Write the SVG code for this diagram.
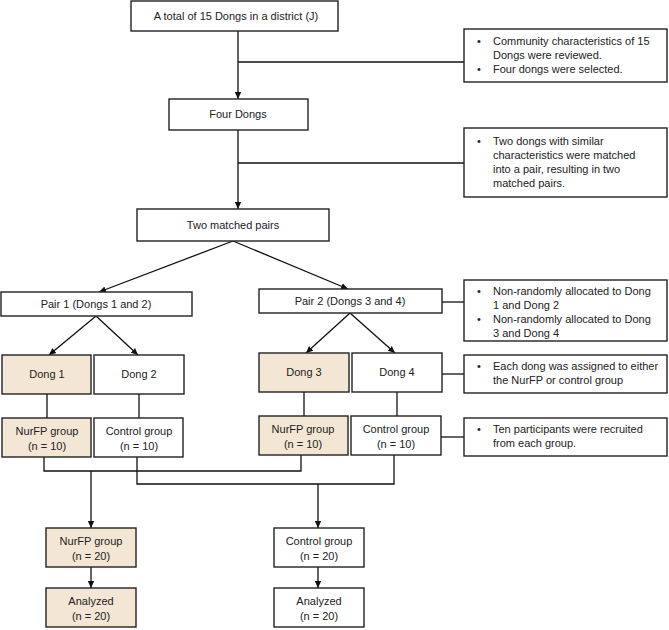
<svg xmlns="http://www.w3.org/2000/svg" width="669" height="630" viewBox="0 0 669 630">
<defs>
<marker id="ah" markerWidth="8" markerHeight="8" refX="7" refY="4" orient="auto" markerUnits="userSpaceOnUse">
<path d="M0,0.8 L7,4 L0,7.2 Z" fill="#111"/>
</marker>
<style>
.box{fill:#fff;stroke:#222;stroke-width:1.4}
.tan{fill:#f3e6d4;stroke:#222;stroke-width:1.4}
.ln{fill:none;stroke:#111;stroke-width:1.3}
.ar{fill:none;stroke:#111;stroke-width:1.3;marker-end:url(#ah)}
text{font-family:"Liberation Sans",Arial,sans-serif;font-size:11px;fill:#222}
.c{text-anchor:middle}
</style>
</defs>
<rect width="669" height="630" fill="#fff"/>
<g id="connectors">
<line class="ar" x1="238" y1="31" x2="238" y2="99"/>
<line class="ln" x1="238" y1="62" x2="464" y2="62"/>
<line class="ar" x1="238" y1="130" x2="238" y2="209"/>
<line class="ln" x1="238" y1="163" x2="464" y2="163"/>
<line class="ar" x1="233" y1="241" x2="99" y2="292"/>
<line class="ar" x1="233" y1="241" x2="348" y2="289"/>
<line class="ar" x1="96" y1="316" x2="49" y2="355"/>
<line class="ar" x1="96" y1="316" x2="138" y2="355"/>
<line class="ar" x1="350" y1="313" x2="306" y2="353"/>
<line class="ar" x1="350" y1="313" x2="395" y2="353"/>
<line class="ln" x1="442" y1="302" x2="464" y2="302"/>
<line class="ln" x1="442" y1="374" x2="464" y2="374"/>
<line class="ln" x1="441" y1="437" x2="464" y2="437"/>
<line class="ln" x1="47" y1="394" x2="47" y2="418"/>
<line class="ln" x1="139" y1="394" x2="139" y2="418"/>
<line class="ln" x1="304" y1="392" x2="304" y2="416"/>
<line class="ln" x1="397" y1="392" x2="397" y2="416"/>
<polyline class="ln" points="44,457 44,471 301,471 301,455"/>
<polyline class="ln" points="137,457 137,484 394,484 394,455"/>
<line class="ar" x1="91" y1="471" x2="91" y2="528"/>
<line class="ar" x1="318" y1="484" x2="318" y2="528"/>
<line class="ar" x1="91" y1="567" x2="91" y2="588"/>
<line class="ar" x1="318" y1="567" x2="318" y2="588"/>
</g>
<g id="total">
<rect class="box" x="131" y="1" width="207" height="30"/>
<text class="c" x="236" y="20">A total of 15 Dongs in a district (J)</text>
</g>
<g id="note1">
<rect class="box" x="464" y="29" width="203" height="53"/>
<text x="477" y="45">•</text><text x="493" y="45">Community characteristics of 15</text>
<text x="493" y="59">Dongs were reviewed.</text>
<text x="477" y="73">•</text><text x="493" y="73">Four dongs were selected.</text>
</g>
<g id="four">
<rect class="box" x="169" y="99" width="139" height="31"/>
<text class="c" x="238" y="118">Four Dongs</text>
</g>
<g id="note2">
<rect class="box" x="464" y="128" width="203" height="69"/>
<text x="477" y="145">•</text><text x="493" y="145">Two dongs with similar</text>
<text x="493" y="159">characteristics were matched</text>
<text x="493" y="173">into a pair, resulting in two</text>
<text x="493" y="187">matched pairs.</text>
</g>
<g id="pairs">
<rect class="box" x="137" y="209" width="192" height="32"/>
<text class="c" x="233" y="229">Two matched pairs</text>
</g>
<g id="pair1">
<rect class="box" x="1" y="292" width="191" height="24"/>
<text class="c" x="96" y="308">Pair 1 (Dongs 1 and 2)</text>
</g>
<g id="pair2">
<rect class="box" x="259" y="289" width="183" height="24"/>
<text class="c" x="350" y="305">Pair 2 (Dongs 3 and 4)</text>
</g>
<g id="note3">
<rect class="box" x="464" y="280" width="203" height="61"/>
<text x="477" y="295">•</text><text x="493" y="295">Non-randomly allocated to Dong</text>
<text x="493" y="309">1 and Dong 2</text>
<text x="477" y="323">•</text><text x="493" y="323">Non-randomly allocated to Dong</text>
<text x="493" y="337">3 and Dong 4</text>
</g>
<g id="dong1">
<rect class="tan" x="2" y="355" width="89" height="39"/>
<text class="c" x="47" y="378">Dong 1</text>
</g>
<g id="dong2">
<rect class="box" x="94" y="355" width="90" height="39"/>
<text class="c" x="139" y="378">Dong 2</text>
</g>
<g id="dong3">
<rect class="tan" x="259" y="353" width="90" height="39"/>
<text class="c" x="304" y="376">Dong 3</text>
</g>
<g id="dong4">
<rect class="box" x="352" y="353" width="90" height="39"/>
<text class="c" x="397" y="376">Dong 4</text>
</g>
<g id="note4">
<rect class="box" x="464" y="355" width="203" height="38"/>
<text x="477" y="370">•</text><text x="493" y="370">Each dong was assigned to either</text>
<text x="493" y="384">the NurFP or control group</text>
</g>
<g id="nurfp1">
<rect class="tan" x="2" y="418" width="89" height="39"/>
<text class="c" x="47" y="435">NurFP group</text>
<text class="c" x="47" y="450">(n = 10)</text>
</g>
<g id="control1">
<rect class="box" x="94" y="418" width="89" height="39"/>
<text class="c" x="139" y="435">Control group</text>
<text class="c" x="139" y="450">(n = 10)</text>
</g>
<g id="nurfp3">
<rect class="tan" x="259" y="416" width="89" height="39"/>
<text class="c" x="303" y="433">NurFP group</text>
<text class="c" x="303" y="448">(n = 10)</text>
</g>
<g id="control4">
<rect class="box" x="351" y="416" width="90" height="39"/>
<text class="c" x="396" y="433">Control group</text>
<text class="c" x="396" y="448">(n = 10)</text>
</g>
<g id="note5">
<rect class="box" x="464" y="418" width="203" height="38"/>
<text x="477" y="433">•</text><text x="493" y="433">Ten participants were recruited</text>
<text x="493" y="447">from each group.</text>
</g>
<g id="nurfp20">
<rect class="tan" x="46" y="528" width="90" height="39"/>
<text class="c" x="91" y="545">NurFP group</text>
<text class="c" x="91" y="560">(n = 20)</text>
</g>
<g id="control20">
<rect class="box" x="274" y="528" width="90" height="39"/>
<text class="c" x="319" y="545">Control group</text>
<text class="c" x="319" y="560">(n = 20)</text>
</g>
<g id="analyzed1">
<rect class="tan" x="46" y="588" width="90" height="39"/>
<text class="c" x="91" y="605">Analyzed</text>
<text class="c" x="91" y="620">(n = 20)</text>
</g>
<g id="analyzed2">
<rect class="box" x="274" y="588" width="90" height="39"/>
<text class="c" x="319" y="605">Analyzed</text>
<text class="c" x="319" y="620">(n = 20)</text>
</g>
</svg>
